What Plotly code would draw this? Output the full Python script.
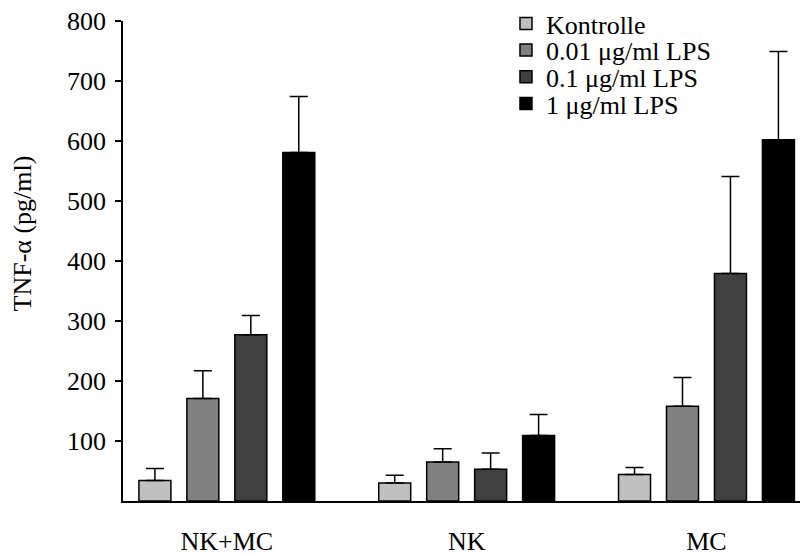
import plotly.graph_objects as go

categories = ["NK+MC", "NK", "MC"]
series_names = ["Kontrolle", "0.01 μg/ml LPS", "0.1 μg/ml LPS", "1 μg/ml LPS"]
kontrolle = [34, 30, 44]
lps_001 = [171, 65, 158]
lps_01 = [277, 53, 379]
lps_1 = [581, 109, 602]
err_kontrolle = [20, 13, 12]
err_001 = [46, 22, 48]
err_01 = [32, 27, 162]
err_1 = [93, 35, 147]
colors = ["#c0c0c0", "#808080", "#404040", "#000000"]
y_ticks = [100, 200, 300, 400, 500, 600, 700, 800]
y_title = "TNF-α (pg/ml)"

values = [kontrolle, lps_001, lps_01, lps_1]
errors = [err_kontrolle, err_001, err_01, err_1]

font_family = "Liberation Serif, Times New Roman, serif"
FS = 26

legend_ids = ["legend", "legend2", "legend3", "legend4"]
legend_y = [0.9948, 0.9392, 0.8835, 0.8278]

fig = go.Figure()
for name, vals, errs, col, lid in zip(series_names, values, errors, colors, legend_ids):
    fig.add_trace(go.Bar(
        x=categories, y=vals, name=name, legend=lid,
        marker=dict(color=col, line=dict(color="black", width=1.5)),
        error_y=dict(type="data", symmetric=False, array=errs,
                     arrayminus=[0] * len(errs), color="black",
                     thickness=1.5, width=9),
    ))

legend_common = dict(x=0.5657, xanchor="left", yanchor="middle",
                     font=dict(family=font_family, size=FS, color="black"),
                     bgcolor="rgba(0,0,0,0)", borderwidth=0)
legends = {}
for lid, ly in zip(legend_ids, legend_y):
    legends[lid] = dict(legend_common, y=ly)

fig.update_layout(
    width=800, height=556,
    margin=dict(l=123, r=0, t=20, b=51),
    paper_bgcolor="white", plot_bgcolor="white",
    barmode="group", bargap=0.2, bargroupgap=0.333,
    font=dict(family=font_family, size=FS, color="black"),
    showlegend=True,
    xaxis=dict(range=[-0.433, 2.39], showline=True, linecolor="black",
               linewidth=1.5, ticks="", showgrid=False, zeroline=False,
               tickfont=dict(family=font_family, size=FS, color="black"),
               ticklabelstandoff=16),
    yaxis=dict(range=[0, 800], tickvals=y_ticks, showline=True,
               linecolor="black", linewidth=1.5, ticks="outside", ticklen=6,
               tickwidth=1.5, tickcolor="black", showgrid=False,
               zeroline=False, ticklabelstandoff=4,
               tickfont=dict(family=font_family, size=FS, color="black")),
    annotations=[dict(text=y_title, xref="paper", yref="paper",
                      x=-0.148, y=0.557, xanchor="center", yanchor="middle",
                      textangle=-90, showarrow=False,
                      font=dict(family=font_family, size=FS, color="black"))],
    **legends,
)

fig.write_html("out.html")
